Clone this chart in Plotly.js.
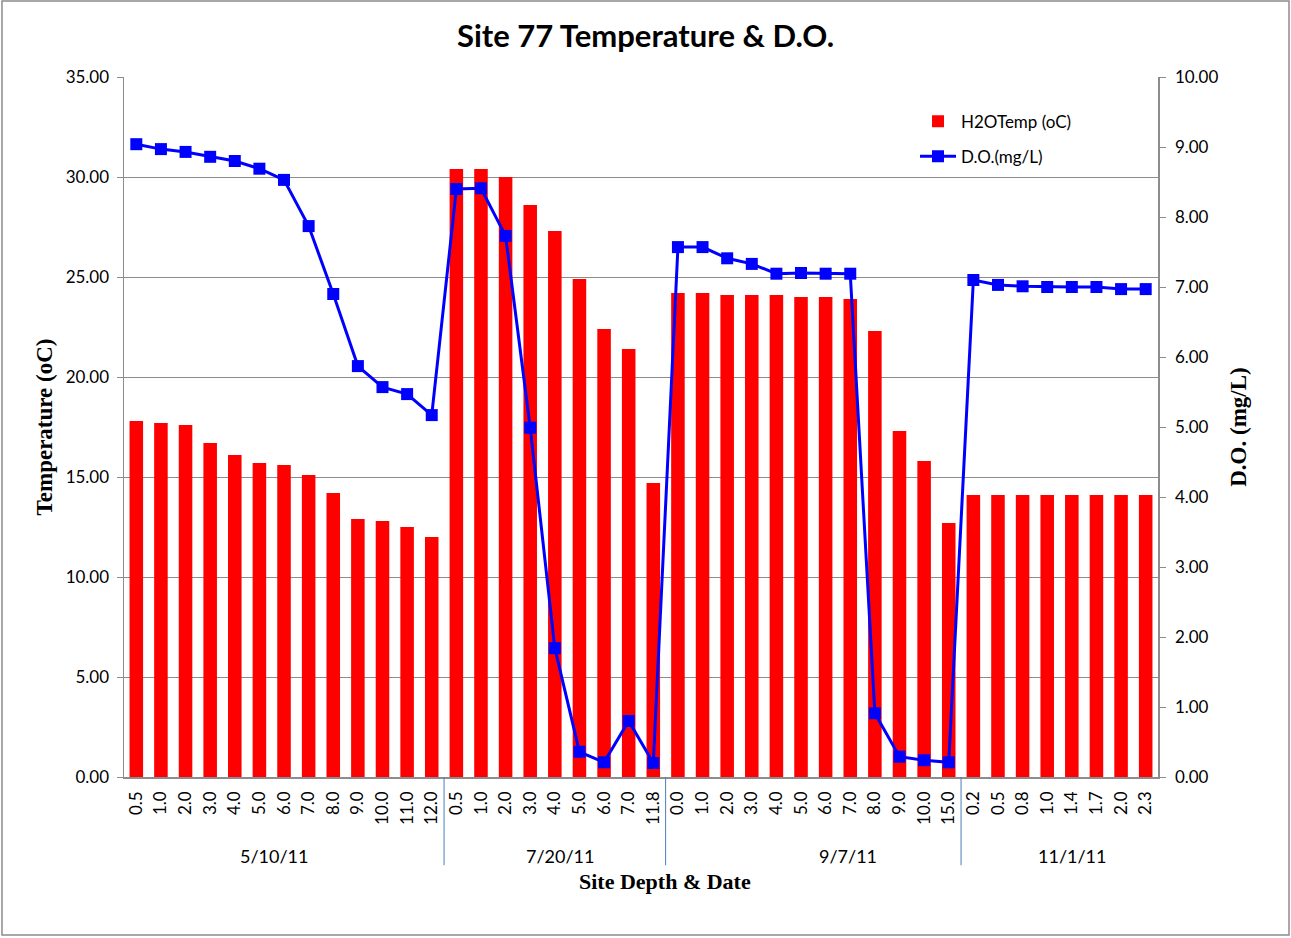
<!DOCTYPE html>
<html><head><meta charset="utf-8">
<script src="https://cdn.plot.ly/plotly-3.0.1.min.js"></script>
<style>body{margin:0;padding:0;background:#fff}#chart{width:1291px;height:938px}</style>
</head><body><div id="chart"></div>
<script>
const dates = ["5/10/11", "7/20/11", "9/7/11", "11/1/11"];
const depths = [
  ["0.5","1.0","2.0","3.0","4.0","5.0","6.0","7.0","8.0","9.0","10.0","11.0","12.0"],
  ["0.5","1.0","2.0","3.0","4.0","5.0","6.0","7.0","11.8"],
  ["0.0","1.0","2.0","3.0","4.0","5.0","6.0","7.0","8.0","9.0","10.0","15.0"],
  ["0.2","0.5","0.8","1.0","1.4","1.7","2.0","2.3"]
];
const temp = [
  17.8, 17.7, 17.6, 16.7, 16.1, 15.7, 15.6, 15.1, 14.2, 12.9, 12.8, 12.5, 12.0,
  30.4, 30.4, 30.0, 28.6, 27.3, 24.9, 22.4, 21.4, 14.7,
  24.2, 24.2, 24.1, 24.1, 24.1, 24.0, 24.0, 23.9, 22.3, 17.3, 15.8, 12.7,
  14.1, 14.1, 14.1, 14.1, 14.1, 14.1, 14.1, 14.1
];
const dox = [
  9.04, 8.97, 8.93, 8.86, 8.80, 8.69, 8.53, 7.87, 6.90, 5.87, 5.57, 5.47, 5.17,
  8.40, 8.41, 7.73, 4.99, 1.84, 0.36, 0.21, 0.80, 0.20,
  7.57, 7.57, 7.41, 7.33, 7.19, 7.20, 7.19, 7.19, 0.91, 0.29, 0.24, 0.21,
  7.10, 7.03, 7.01, 7.00, 7.00, 7.00, 6.97, 6.97
];

const tickText = depths.flat();
const xIdx = tickText.map((_, i) => i);

// small per-group label offsets (in category units) mimicking the original's label placement
const labelShift = [-0.4, 0.2, 1.4, 0.5];

const sansFam = 'Lato, "Open Sans", sans-serif';
const serifFam = '"Liberation Serif", "Times New Roman", serif';

const annotations = [];
const shapes = [];
let start = 0;
depths.forEach((g, gi) => {
  const end = start + g.length - 1;
  annotations.push({
    x: (start + end) / 2 + labelShift[gi], xref: 'x', y: -0.113, yref: 'paper',
    text: dates[gi], showarrow: false, yanchor: 'middle',
    font: {family: sansFam, size: 18, color: '#000'}
  });
  if (gi < depths.length - 1) {
    shapes.push({type: 'line', xref: 'x', yref: 'paper', x0: end + 0.5, x1: end + 0.5,
      y0: 0, y1: -0.126, line: {color: '#4A7EBB', width: 1}});
  }
  start = end + 1;
});
annotations.push({
  x: 0.523, xref: 'paper', y: -0.1486, yref: 'paper', showarrow: false, yanchor: 'middle',
  text: '<b>Site Depth & Date</b>', font: {family: serifFam, size: 22, color: '#000'}
});
shapes.push({type: 'rect', xref: 'paper', yref: 'paper',
  x0: -0.118, x1: 1.1267, y0: -0.2257, y1: 1.1086,
  line: {color: '#8c8c8c', width: 1.5}, fillcolor: 'rgba(0,0,0,0)', layer: 'below'});

const tickFont = {family: sansFam, size: 17, color: '#000'};

const traces = [
  {type: 'bar', x: xIdx, y: temp, name: 'H2OTemp (oC)', legendgroup: 'a',
   marker: {color: '#FF0000'}, yaxis: 'y'},
  {type: 'scatter', mode: 'lines+markers', x: xIdx, y: dox, name: 'D.O.(mg/L)', legendgroup: 'b',
   line: {color: '#0000FF', width: 3}, marker: {symbol: 'square', size: 12, color: '#0000FF'},
   yaxis: 'y2'}
];

const layout = {
  width: 1291, height: 938,
  margin: {l: 124, r: 133, t: 77, b: 161},
  paper_bgcolor: '#fff', plot_bgcolor: '#fff',
  bargap: 0.45,
  showlegend: true,
  title: {text: '<b>Site 77 Temperature & D.O.</b>', x: 0.5, xanchor: 'center', y: 0.961, yanchor: 'middle',
    font: {family: sansFam, size: 31, color: '#000'}},
  xaxis: {
    range: [-0.5, tickText.length - 0.5],
    tickmode: 'array', tickvals: xIdx, ticktext: tickText, tickangle: -90,
    tickfont: tickFont, ticks: '', showgrid: false, zeroline: false,
    showline: true, linecolor: '#8c8c8c', linewidth: 1.5, ticklabelstandoff: 6
  },
  yaxis: {
    range: [0, 35], dtick: 5, tickformat: '.2f', tickfont: tickFont,
    showgrid: true, gridcolor: '#8c8c8c', gridwidth: 1, zeroline: false,
    showline: true, linecolor: '#8c8c8c', linewidth: 1.5,
    ticks: 'outside', ticklen: 6, tickcolor: '#8c8c8c', ticklabelstandoff: 4,
    title: {text: '<b>Temperature (oC)</b>', standoff: 6,
      font: {family: serifFam, size: 23, color: '#000'}}
  },
  yaxis2: {
    range: [0, 10], dtick: 1, tickformat: '.2f', tickfont: tickFont,
    overlaying: 'y', side: 'right', showgrid: false, zeroline: false,
    showline: true, linecolor: '#8c8c8c', linewidth: 1.5,
    ticks: 'outside', ticklen: 6, tickcolor: '#8c8c8c', ticklabelstandoff: 6,
    title: {text: '<b>D.O. (mg/L)</b>', standoff: 12,
      font: {family: serifFam, size: 23, color: '#000'}}
  },
  legend: {x: 0.765, y: 0.962, xanchor: 'left', yanchor: 'top',
    bgcolor: 'rgba(255,255,255,0)', font: {family: sansFam, size: 17, color: '#000'},
    traceorder: 'grouped', tracegroupgap: 10, itemwidth: 36},
  annotations: annotations,
  shapes: shapes
};

Plotly.newPlot('chart', traces, layout, {displayModeBar: false, staticPlot: true});
</script>
</body></html>
